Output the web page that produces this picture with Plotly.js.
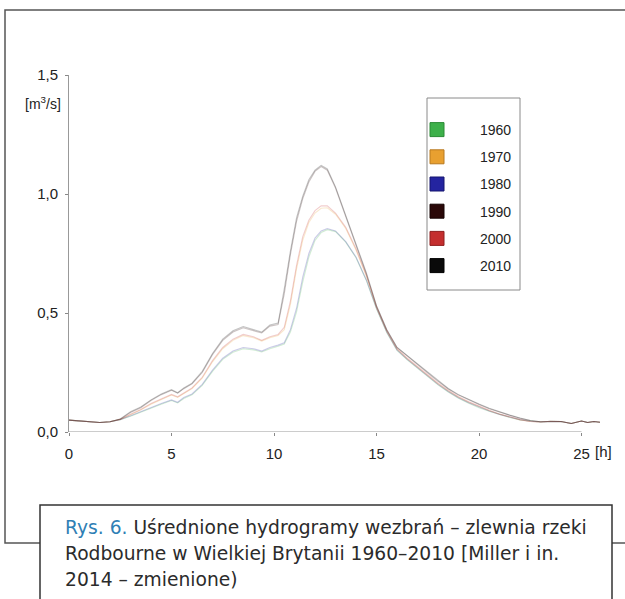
<!DOCTYPE html>
<html>
<head>
<meta charset="utf-8">
<script src="https://cdn.plot.ly/plotly-3.0.1.min.js"></script>
<style>html,body{margin:0;padding:0;background:#fff;}#chart{width:625px;height:599px;}</style>
</head>
<body>
<div id="chart"></div>
<script>
// ---- data ----
const hours = [0,0.5,1,1.5,2,2.5,3,3.5,4,4.5,5,5.3,5.6,6,6.5,7,7.5,8,8.5,9,9.4,9.8,10.2,10.5,10.8,11.1,11.4,11.7,12,12.3,12.6,13,13.5,14,14.5,15,15.5,16,16.5,17,17.5,18,18.5,19,19.5,20,20.5,21,21.5,22,22.5,23,23.5,24,24.5,25,25.3,25.6,25.9];

const q1960 = [0.050,0.047,0.042,0.040,0.043,0.052,0.066,0.083,0.102,0.117,0.132,0.122,0.141,0.156,0.196,0.255,0.305,0.335,0.350,0.345,0.336,0.350,0.360,0.370,0.420,0.505,0.630,0.735,0.805,0.838,0.850,0.842,0.798,0.732,0.638,0.518,0.418,0.343,0.303,0.268,0.233,0.198,0.168,0.142,0.121,0.102,0.087,0.073,0.061,0.051,0.045,0.042,0.045,0.044,0.036,0.046,0.040,0.044,0.041];
const q1970 = [0.050,0.047,0.042,0.040,0.043,0.053,0.073,0.092,0.117,0.137,0.155,0.145,0.162,0.182,0.226,0.295,0.350,0.385,0.405,0.396,0.382,0.396,0.405,0.430,0.535,0.685,0.805,0.880,0.920,0.940,0.942,0.915,0.855,0.765,0.655,0.522,0.422,0.348,0.307,0.272,0.237,0.202,0.172,0.146,0.125,0.106,0.089,0.075,0.062,0.051,0.044,0.042,0.045,0.044,0.036,0.046,0.040,0.044,0.041];
const q1980 = [0.050,0.047,0.042,0.040,0.043,0.052,0.068,0.085,0.105,0.120,0.135,0.125,0.145,0.160,0.200,0.260,0.310,0.340,0.355,0.350,0.340,0.355,0.365,0.375,0.430,0.520,0.650,0.750,0.815,0.845,0.855,0.845,0.800,0.735,0.640,0.520,0.420,0.345,0.305,0.270,0.235,0.200,0.170,0.144,0.123,0.104,0.088,0.074,0.062,0.052,0.045,0.042,0.045,0.044,0.036,0.046,0.040,0.044,0.041];
const q1990 = [0.050,0.047,0.042,0.040,0.043,0.054,0.082,0.102,0.132,0.157,0.175,0.163,0.182,0.202,0.250,0.325,0.385,0.420,0.438,0.427,0.416,0.445,0.452,0.580,0.745,0.885,0.980,1.050,1.095,1.115,1.100,1.025,0.905,0.785,0.665,0.530,0.430,0.355,0.318,0.283,0.248,0.213,0.181,0.155,0.134,0.116,0.098,0.083,0.070,0.058,0.048,0.043,0.045,0.044,0.036,0.046,0.040,0.044,0.041];
const q2000 = [0.050,0.047,0.042,0.040,0.043,0.053,0.075,0.095,0.120,0.140,0.158,0.148,0.165,0.185,0.230,0.300,0.355,0.390,0.410,0.400,0.385,0.400,0.410,0.440,0.550,0.700,0.820,0.890,0.930,0.950,0.950,0.920,0.860,0.770,0.660,0.525,0.425,0.350,0.310,0.275,0.240,0.205,0.175,0.148,0.127,0.108,0.091,0.076,0.063,0.052,0.044,0.042,0.045,0.044,0.036,0.046,0.040,0.044,0.041];
const q2010 = [0.050,0.047,0.042,0.040,0.043,0.055,0.085,0.105,0.135,0.160,0.178,0.165,0.185,0.205,0.255,0.330,0.390,0.425,0.443,0.430,0.420,0.450,0.458,0.600,0.760,0.900,0.990,1.060,1.100,1.120,1.105,1.030,0.910,0.790,0.670,0.530,0.430,0.355,0.320,0.285,0.250,0.215,0.183,0.157,0.136,0.118,0.100,0.085,0.071,0.059,0.048,0.043,0.045,0.044,0.036,0.046,0.040,0.044,0.041];

const years = ["1960","1970","1980","1990","2000","2010"];
const seriesList = [q1960,q1970,q1980,q1990,q2000,q2010];
const xTickVals = [0,5,10,15,20,25];
const xTickText = ["0","5","10","15","20","25"];
const yTickVals = [0,0.5,1.0,1.5];

// ---- styles ----
const colors = ["#3db04a","#e8a030","#2424a0","#2a0808","#c42e2e","#0a0a0a"];
const borders = ["#2a8a35","#b87a20","#14146e","#150303","#8e1e1e","#000000"];
const tickFont = {family:"Liberation Sans, Arial, sans-serif", size:15, color:"#222"};

const traces = [];
seriesList.forEach((s,i)=>{
  traces.push({
    x: hours, y: s, type:"scatter", mode:"lines",
    line:{color:colors[i], width:1.1}, opacity:0.24,
    showlegend:false, hoverinfo:"skip"
  });
});
years.forEach((yr,i)=>{
  traces.push({
    x:[null], y:[null], type:"scatter", mode:"markers", name:yr,
    legendgroup:"g"+i,
    marker:{symbol:"square", size:14, color:colors[i], line:{color:borders[i], width:1}},
    showlegend:true
  });
});

// pixel -> paper helpers (plot area: x 69..602, y 75..432)
const L=69, R=602, T=75, B=432;
const px = p => (p-L)/(R-L);
const py = p => (B-p)/(B-T);

const capFont = {family:"DejaVu Sans, sans-serif", size:18.7, color:"#2b2b2b"};

const layout = {
  width:625, height:599,
  margin:{l:L, r:625-R, t:T, b:599-B},
  paper_bgcolor:"#fff", plot_bgcolor:"#fff",
  separators:", ",
  showlegend:true,
  font:tickFont,
  xaxis:{
    range:[0,26], showgrid:false, zeroline:false, showline:false,
    tickvals:xTickVals, ticktext:xTickText, ticks:"outside", ticklen:3,
    tickcolor:"#888", tickfont:tickFont, ticklabelstandoff:5, fixedrange:true
  },
  yaxis:{
    range:[0,1.5], showgrid:false, zeroline:false, showline:true,
    linecolor:"#999", linewidth:1,
    tickvals:yTickVals, tickformat:".1f", ticks:"outside", ticklen:3,
    tickcolor:"#888", tickfont:tickFont, ticklabelstandoff:4, fixedrange:true
  },
  legend:{
    x:px(394), y:py(114), xanchor:"left", yanchor:"top",
    bgcolor:"rgba(0,0,0,0)", borderwidth:0,
    font:{family:"Liberation Sans, Arial, sans-serif", size:14, color:"#222"},
    tracegroupgap:6, itemwidth:76
  },
  shapes:[
    // outer frame
    {type:"rect", xref:"paper", yref:"paper", x0:px(5), x1:px(632), y0:py(543), y1:py(10),
     line:{color:"#555", width:1.5}, fillcolor:"rgba(0,0,0,0)", layer:"below"},
    // legend box
    {type:"rect", xref:"paper", yref:"paper", x0:px(427), x1:px(520), y0:py(290), y1:py(98),
     line:{color:"#8a8a8a", width:1}, fillcolor:"rgba(0,0,0,0)", layer:"below"},
    // x axis line 0..25
    {type:"line", xref:"x", yref:"y", x0:0, x1:25, y0:0, y1:0, line:{color:"#999", width:1}},
    // caption box
    {type:"rect", xref:"paper", yref:"paper", x0:px(40), x1:px(612), y0:py(615), y1:py(505),
     line:{color:"#333", width:1.5}, fillcolor:"#fff"}
  ],
  annotations:[
    {xref:"paper", yref:"paper", x:px(63), y:py(103), xanchor:"right", yanchor:"middle",
     text:"[m<sup>3</sup>/s]", showarrow:false, font:{family:"Liberation Sans, Arial, sans-serif", size:14, color:"#222"}},
    {xref:"x", yref:"paper", x:25, y:py(451), xanchor:"left", yanchor:"middle", xshift:11,
     text:"[h]", showarrow:false, font:tickFont},
    {xref:"paper", yref:"paper", x:px(63), y:py(527), xanchor:"left", yanchor:"middle", showarrow:false,
     text:"<span style='color:#2f7fb5'>Rys. 6.</span> Uśrednione hydrogramy wezbrań – zlewnia rzeki",
     font:capFont},
    {xref:"paper", yref:"paper", x:px(63), y:py(553), xanchor:"left", yanchor:"middle", showarrow:false,
     text:"Rodbourne w Wielkiej Brytanii 1960–2010 [Miller i in.",
     font:capFont},
    {xref:"paper", yref:"paper", x:px(63), y:py(579), xanchor:"left", yanchor:"middle", showarrow:false,
     text:"2014 – zmienione)",
     font:capFont}
  ]
};

Plotly.newPlot("chart", traces, layout, {displayModeBar:false, staticPlot:true});
</script>
</body>
</html>
